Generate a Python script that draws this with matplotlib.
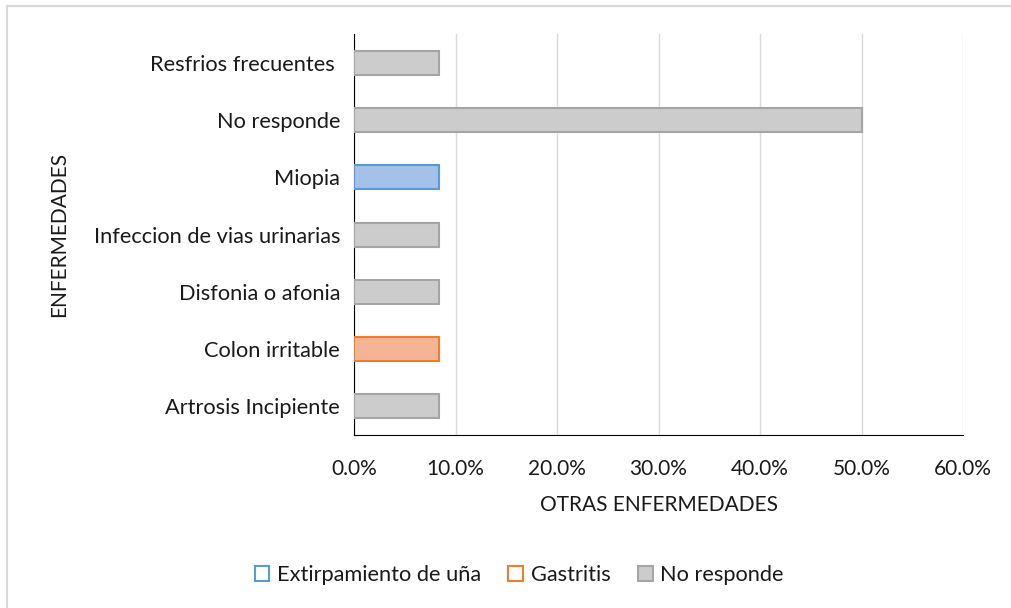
import matplotlib
matplotlib.use("Agg")
import matplotlib.pyplot as plt
from matplotlib.patches import Patch
from matplotlib.lines import Line2D
from matplotlib.ticker import FuncFormatter

categories = ["Artrosis Incipiente", "Colon irritable", "Disfonia o afonia",
              "Infeccion de vias urinarias", "Miopia", "No responde",
              "Resfrios frecuentes "]
series_names = ["Extirpamiento de uña", "Gastritis", "No responde"]
extirpamiento = [0, 0, 0, 0, 0.0833, 0, 0]
gastritis = [0, 0.0833, 0, 0, 0, 0, 0]
no_responde = [0.0833, 0, 0.0833, 0.0833, 0, 0.50, 0.0833]
x_ticks = [0, 0.1, 0.2, 0.3, 0.4, 0.5, 0.6]

fills = ["#a4c1e9", "#f4b597", "#cccccc"]
edges = ["#5b9bd5", "#ed7d31", "#a5a5a5"]
txt = '#1a1a1a'

plt.rcParams['font.family'] = ['Lato', 'DejaVu Sans']
fig = plt.figure(figsize=(10.12, 6.08), dpi=100)
ax = fig.add_axes([0.3498, 0.2845, 0.6018, 0.6595])

ypos = list(range(len(categories)))
for vals, fc, ec in zip([extirpamiento, gastritis, no_responde], fills, edges):
    ys = [y for y, v in zip(ypos, vals) if v > 0]
    vs = [v for v in vals if v > 0]
    ax.barh(ys, vs, height=0.42, color=fc, edgecolor=ec, linewidth=1.5, zorder=3)

ax.set_xlim(0, 0.6)
ax.set_ylim(-0.5, len(categories) - 0.5)
ax.set_xticks(x_ticks)
ax.xaxis.set_major_formatter(FuncFormatter(lambda v, p: f"{v*100:.1f}%"))
ax.set_yticks(ypos)
ax.set_yticklabels(categories)
ax.tick_params(axis='both', length=0, colors=txt)
ax.tick_params(axis='y', pad=10, labelsize=15.7)
ax.tick_params(axis='x', pad=17, labelsize=15)
ax.grid(axis='x', color='#d9d9d9', linewidth=1, zorder=0)
for s in ['top', 'right']:
    ax.spines[s].set_visible(False)
ax.spines['left'].set_color('black')
ax.spines['bottom'].set_color('black')
ax.set_xlabel("OTRAS ENFERMEDADES", fontsize=15, color=txt, labelpad=12)
ax.set_ylabel("ENFERMEDADES", fontsize=15, color=txt)
ax.yaxis.set_label_coords(-0.467, 0.5)

handles = [Patch(facecolor='white', edgecolor=edges[0], linewidth=1.5),
           Patch(facecolor='white', edgecolor=edges[1], linewidth=1.5),
           Patch(facecolor=fills[2], edgecolor=edges[2], linewidth=1.5)]
fig.legend(handles, series_names, loc='center', bbox_to_anchor=(0.513, 0.054),
           ncol=3, frameon=False, fontsize=15.7, handlelength=0.68, handleheight=0.68,
           columnspacing=1.25, handletextpad=0.35, labelcolor=txt)

fig.add_artist(Line2D([7/1012, 1.0], [1 - 6/608, 1 - 6/608], transform=fig.transFigure,
                      color='#d9d9d9', linewidth=1.5))
fig.add_artist(Line2D([7/1012, 7/1012], [0.0, 1 - 6/608], transform=fig.transFigure,
                      color='#d9d9d9', linewidth=1.5))
fig.savefig("out.png", dpi=100)
